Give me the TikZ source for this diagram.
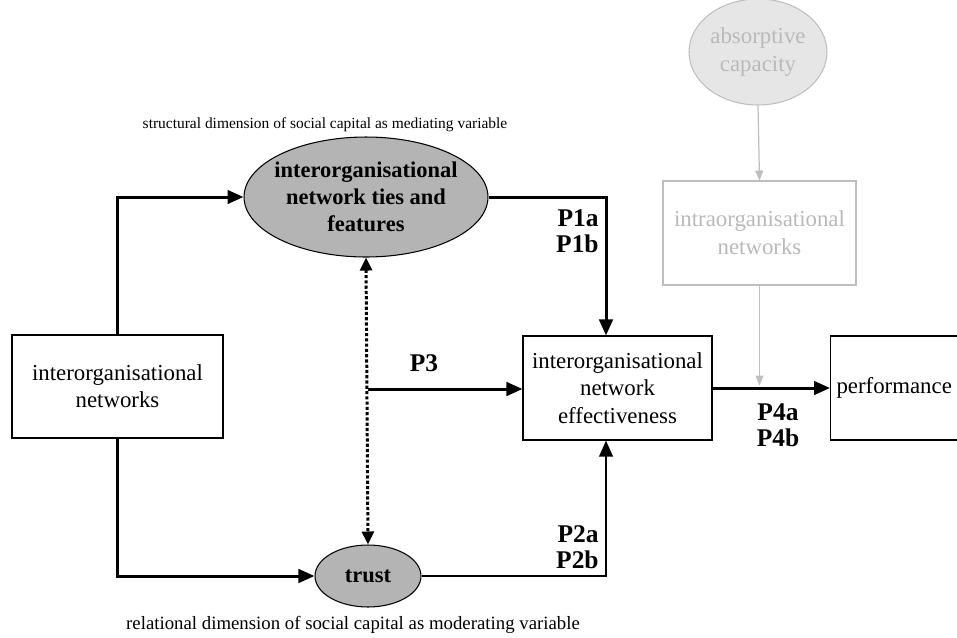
\documentclass[tikz,border=0pt]{standalone}
\usepackage{fontspec}
\setmainfont{Liberation Serif}
\usetikzlibrary{shapes.geometric,arrows.meta}
\definecolor{ellgray}{RGB}{180,180,180}
\definecolor{lightell}{RGB}{230,230,230}
\definecolor{fadeline}{RGB}{190,190,190}
\definecolor{fadetext}{RGB}{185,185,185}

\begin{document}
\begin{tikzpicture}[x=0.02cm,y=-0.02cm,
  box/.style={draw,line width=0.6pt,font=\fontsize{13}{15.5}\selectfont,align=center},
  ell/.style={ellipse,draw,line width=0.6pt,fill=ellgray,inner sep=0pt,font=\bfseries\fontsize{12.8}{15.5}\selectfont,align=center},
  conn/.style={line width=1.7pt,-{Triangle[length=0.32cm,width=0.27cm]}},
  dotconn/.style={line width=1.7pt,dash pattern=on 1.8pt off 1.2pt,{Triangle[length=0.26cm,width=0.24cm]}-{Triangle[length=0.26cm,width=0.24cm]}},
  faded/.style={draw=fadeline,line width=0.6pt,text=fadetext,font=\fontsize{13}{16}\selectfont,align=center},
  fadeconn/.style={fadeline,line width=0.7pt,-{Triangle[length=0.2cm,width=0.16cm]}},
  plabel/.style={font=\bfseries\fontsize{14.5}{14.5}\selectfont,align=right,inner sep=0pt},
  caption/.style={inner sep=0pt}]
\useasboundingbox (0,0) rectangle (957,637);

\node[box,minimum width=4.22cm,minimum height=2.06cm] (netw) at (117.5,386.5) {interorganisational\\networks};
\node[ell,inner xsep=-0.2cm,minimum width=4.88cm,minimum height=2.4cm] (ties) at (366,197) {interorganisational\\network ties and\\features};
\node[ell,minimum width=2.12cm,minimum height=1.24cm] (trust) at (368,576) {trust};
\node[box,minimum width=3.78cm,minimum height=2.08cm] (eff) at (617.5,388) {interorganisational\\network\\effectiveness};
\node[box,anchor=west,align=left,text width=2.8cm,inner xsep=0.12cm,minimum height=2.08cm] (perf) at (830,388) {performance};

% grey part of the model
\node[faded,ellipse,fill=lightell,inner sep=0pt,minimum width=2.76cm,minimum height=2.12cm] (absorb) at (758,52) {absorptive\\capacity};
\node[faded,minimum width=3.86cm,minimum height=2.08cm] (intra) at (759.5,233) {intraorganisational\\networks};

\node[caption,font=\fontsize{8.8}{11}\selectfont] (capup) at (325,125) {structural dimension of social capital as mediating variable};
\node[caption,font=\fontsize{10.7}{13}\selectfont] (capdown) at (353,625) {relational dimension of social capital as moderating variable};

\coordinate (p3) at (368,389);
\coordinate (pone) at ([xshift=-0.23cm]eff.north);
\coordinate (ptwo) at ([xshift=-0.23cm]eff.south);

\draw[conn] (netw.north) |- (ties.west);
\draw[conn] (netw.south) |- (trust.west);
\draw[conn] (ties.east) -| (pone);
\draw[conn,line width=1.3pt] (trust.east) -| (ptwo);
\draw[conn] (p3) -- (p3 -| eff.west);
\draw[dotconn] (ties.south) -- (trust.north);
\draw[conn] (eff.east) -- (perf.west);
\draw[fadeconn] (absorb.south) -- (intra.north);
\draw[fadeconn] (intra.south) -- ([yshift=0.05cm]intra.south |- eff.east);

\node[plabel,anchor=east] (pa) at (599,231) {P1a\\P1b};
\node[plabel,anchor=east] (pb) at (599,547) {P2a\\P2b};
\node[plabel] (pc) at (424,363) {P3};
\node[plabel,align=center] (pd) at (778,425) {P4a\\P4b};
\end{tikzpicture}
\end{document}
